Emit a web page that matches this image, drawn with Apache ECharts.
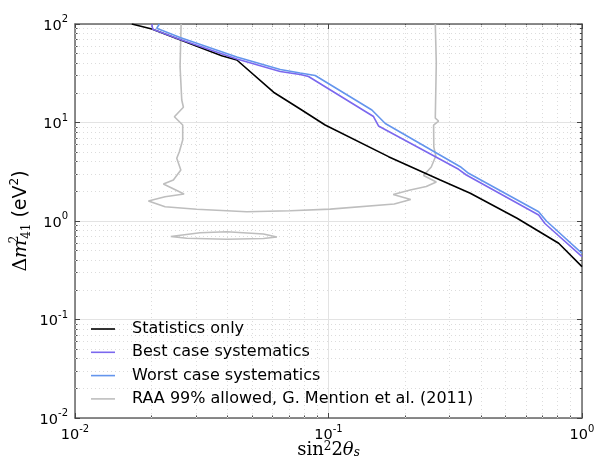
<!DOCTYPE html>
<html><head><meta charset="utf-8">
<script src="https://cdn.jsdelivr.net/npm/echarts@6/dist/echarts.min.js"></script>
<style>html,body{margin:0;padding:0;background:#fff}#c{width:596px;height:466px}</style>
</head><body><div id="c"></div>
<script>
// Statistics only
const statX = [0.01675, 0.0201, 0.0379, 0.0435, 0.0607, 0.0773, 0.097, 0.1725, 0.276, 0.3625, 0.5545, 0.809, 1.0];
const statY = [100, 89, 47.6, 43.1, 20.3, 13.7, 9.43, 4.50, 2.61, 1.91, 1.065, 0.594, 0.344];
// Best case systematics
const bestX = [0.0201, 0.02026, 0.02597, 0.0435, 0.0645, 0.0773, 0.0834, 0.1505, 0.1575, 0.326, 0.3497, 0.6745, 0.714, 1.0];
const bestY = [100, 88.4, 69.6, 44.1, 32.9, 30.7, 29.3, 11.5, 9.22, 3.35, 2.93, 1.15, 0.943, 0.434];
// Worst case systematics
const worstX = [0.02152, 0.0210, 0.02597, 0.0435, 0.0645, 0.0773, 0.0886, 0.1483, 0.1675, 0.331, 0.357, 0.6745, 0.7237, 1.0];
const worstY = [100, 90.4, 72.9, 46.2, 34.5, 31.8, 30.0, 13.4, 9.77, 3.56, 3.05, 1.243, 1.0, 0.47];
// RAA 99% allowed contour (main)
const raaX = [0.2638, 0.2662, 0.2638, 0.2718, 0.2598, 0.2603, 0.265, 0.2543, 0.2371, 0.2662, 0.243, 0.210, 0.180, 0.211, 0.1817, 0.1016, 0.0706, 0.0476, 0.0302, 0.02266, 0.01948, 0.02266, 0.02693, 0.02232, 0.02444, 0.02615, 0.0252, 0.0258, 0.0266, 0.0266, 0.02466, 0.02677, 0.02637, 0.02597, 0.02622];
const raaY = [100, 40.2, 11.1, 10.35, 9.43, 5.64, 4.57, 3.53, 2.90, 2.49, 2.24, 2.06, 1.86, 1.65, 1.49, 1.32, 1.27, 1.243, 1.315, 1.397, 1.596, 1.765, 1.88, 2.375, 2.61, 3.29, 4.33, 5.05, 6.64, 9.43, 11.45, 14.27, 16.9, 36.9, 100];
// RAA 99% allowed contour (island)
const islandX = [0.02386, 0.03114, 0.0397, 0.0554, 0.0626, 0.0554, 0.0397, 0.0276, 0.02386];
const islandY = [0.696, 0.7606, 0.779, 0.738, 0.688, 0.664, 0.652, 0.667, 0.696];
// axes
const minorX = [0.02,0.03,0.04,0.05,0.06,0.07,0.08,0.09,0.2,0.3,0.4,0.5,0.6,0.7,0.8,0.9];
const minorY = [0.02,0.03,0.04,0.05,0.06,0.07,0.08,0.09,0.2,0.3,0.4,0.5,0.6,0.7,0.8,0.9,2,3,4,5,6,7,8,9,20,30,40,50,60,70,80,90];
const names = ['Statistics only', 'Best case systematics', 'Worst case systematics', 'RAA 99% allowed, G. Mention et al. (2011)'];

const zip = (a, b) => a.map((v, i) => [v, b[i]]);
const SANS = 'DejaVu Sans';
const SERIF = 'DejaVu Serif';
const expFmt = v => '{b|10}{s|' + Math.round(Math.log10(v)) + '}';
const tickRich = {
  b: {fontFamily: SANS, fontSize: 14.5, color: '#000', padding: [4, 0, 0, 0]},
  s: {fontFamily: SANS, fontSize: 10, color: '#000', verticalAlign: 'top'}
};
const frameLine = {show: true, onZero: false, lineStyle: {color: '#666', width: 1.5}};
const noLine = {show: false, onZero: false};
const majTick = {show: true, inside: true, length: 5, lineStyle: {color: '#444'}};
const minTick = v => ({show: true, inside: true, length: 2.5, lineStyle: {color: '#444'}, customValues: v.map(Math.log10)});
const chart = echarts.init(document.getElementById('c'));
chart.setOption({
  animation: false,
  backgroundColor: '#fff',
  grid: {left: 75, right: 14, top: 24, bottom: 48, outerBoundsMode: 'none', containLabel: false},
  legend: {
    orient: 'vertical', left: 91, top: 320, padding: 0, itemWidth: 24, itemHeight: 1.6, itemGap: 5.3,
    icon: 'rect', z: 10,
    data: names,
    textStyle: {fontFamily: SANS, fontSize: 16, color: '#000', lineHeight: 18, padding: [0, 0, 0, 12]}
  },
  xAxis: [
    {type: 'log', logBase: 10, min: 0.01, max: 1, position: 'bottom',
     axisLine: frameLine, axisTick: majTick,
     axisLabel: {margin: 6, formatter: expFmt, rich: tickRich},
     splitLine: {show: true, lineStyle: {color: '#e3e3e3', width: 1}},
     name: '{r|sin}{s|2}{r|2}{i|θ}{u|s}', nameLocation: 'middle', nameGap: 23, nameMoveOverlap: false,
     nameTextStyle: {rich: {
       r: {fontFamily: SERIF, fontSize: 18, color: '#000'},
       s: {fontFamily: SERIF, fontSize: 12, color: '#000', verticalAlign: 'top'},
       i: {fontFamily: SERIF, fontSize: 18, fontStyle: 'italic', color: '#000'},
       u: {fontFamily: SERIF, fontSize: 12, fontStyle: 'italic', color: '#000', verticalAlign: 'bottom'}
     }}},
    {type: 'log', logBase: 10, min: 0.01, max: 1, position: 'top',
     axisLine: frameLine, axisTick: majTick,
     axisLabel: {show: false}, splitLine: {show: false}},
    {type: 'value', min: -2, max: 0, position: 'bottom',
     axisLine: noLine, axisLabel: {show: false}, splitLine: {show: false}, axisTick: minTick(minorX)},
    {type: 'value', min: -2, max: 0, position: 'top',
     axisLine: noLine, axisLabel: {show: false}, splitLine: {show: false}, axisTick: minTick(minorX)}
  ],
  yAxis: [
    {type: 'log', logBase: 10, min: 0.01, max: 100, position: 'left',
     axisLine: frameLine, axisTick: majTick,
     axisLabel: {margin: 7, formatter: expFmt, rich: tickRich},
     splitLine: {show: true, lineStyle: {color: '#e3e3e3', width: 1}},
     name: '{d|Δ}{m|m}{s|2}{u|41}{e| (eV}{t|2}{e|)}', nameLocation: 'middle', nameGap: 42, nameRotate: 90, nameMoveOverlap: false,
     nameTextStyle: {rich: {
       d: {fontFamily: SERIF, fontSize: 19, color: '#000', lineHeight: 24},
       m: {fontFamily: SERIF, fontSize: 19, fontStyle: 'italic', color: '#000', lineHeight: 24},
       s: {fontFamily: SERIF, fontSize: 12, color: '#000', verticalAlign: 'top', width: 1},
       u: {fontFamily: SERIF, fontSize: 12, color: '#000', verticalAlign: 'bottom'},
       e: {fontFamily: SANS, fontSize: 19, color: '#000', lineHeight: 24},
       t: {fontFamily: SANS, fontSize: 12, color: '#000', verticalAlign: 'top'}
     }}},
    {type: 'log', logBase: 10, min: 0.01, max: 100, position: 'right',
     axisLine: frameLine, axisTick: majTick,
     axisLabel: {show: false}, splitLine: {show: false}},
    {type: 'value', min: -2, max: 2, position: 'left',
     axisLine: noLine, axisLabel: {show: false}, splitLine: {show: false}, axisTick: minTick(minorY)},
    {type: 'value', min: -2, max: 2, position: 'right',
     axisLine: noLine, axisLabel: {show: false}, splitLine: {show: false}, axisTick: minTick(minorY)}
  ],
  series: [
    {type: 'line', name: '__grid', data: [], silent: true, z: 0,
     markLine: {silent: true, z: 1, symbol: ['none', 'none'], label: {show: false}, animation: false,
       lineStyle: {type: [1, 3], color: '#dcdcdc', width: 1},
       data: minorX.map(v => ({xAxis: v})).concat(minorY.map(v => ({yAxis: v})))}},
    {type: 'line', name: names[3], data: zip(raaX, raaY), symbol: 'none', lineStyle: {color: '#bebebe', width: 1.6}, itemStyle: {color: '#bebebe'}},
    {type: 'line', name: names[3], data: zip(islandX, islandY), symbol: 'none', lineStyle: {color: '#bebebe', width: 1.6}, itemStyle: {color: '#bebebe'}},
    {type: 'line', name: names[0], data: zip(statX, statY), symbol: 'none', lineStyle: {color: '#000000', width: 1.6}, itemStyle: {color: '#000000'}},
    {type: 'line', name: names[1], data: zip(bestX, bestY), symbol: 'none', lineStyle: {color: '#7b68ee', width: 1.6}, itemStyle: {color: '#7b68ee'}},
    {type: 'line', name: names[2], data: zip(worstX, worstY), symbol: 'none', lineStyle: {color: '#6495ed', width: 1.6}, itemStyle: {color: '#6495ed'}}
  ]
});
</script></body></html>
